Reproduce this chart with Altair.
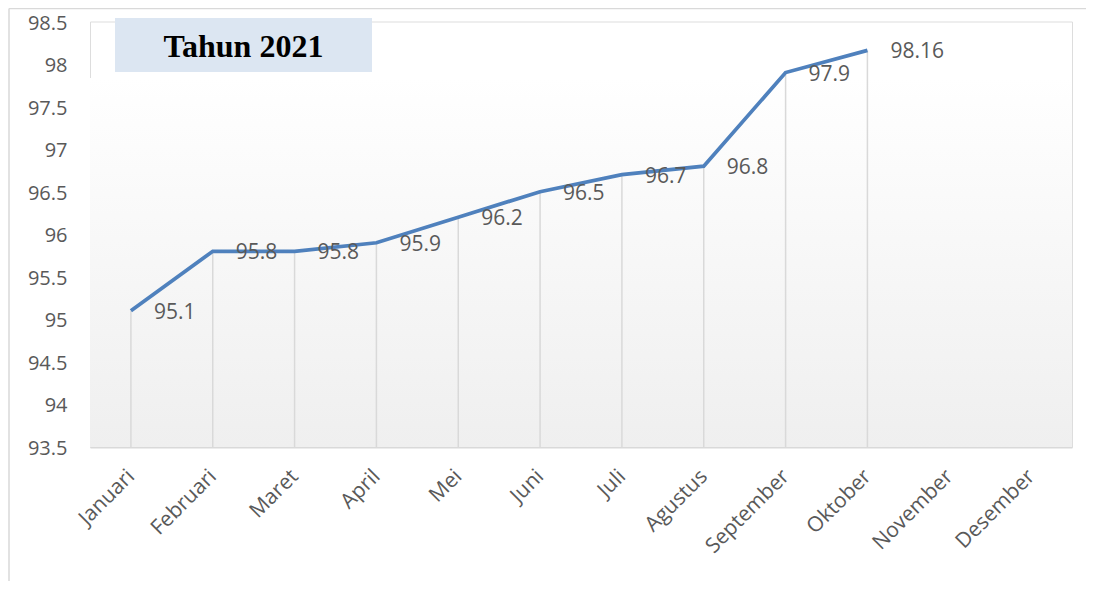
import altair as alt
import pandas as pd

months = ["Januari", "Februari", "Maret", "April", "Mei", "Juni", "Juli",
          "Agustus", "September", "Oktober", "November", "Desember"]
values = [95.1, 95.8, 95.8, 95.9, 96.2, 96.5, 96.7, 96.8, 97.9, 98.16, None, None]
y_ticks = [93.5, 94, 94.5, 95, 95.5, 96, 96.5, 97, 97.5, 98, 98.5]
title_text = "Tahun 2021"
y_min, y_max = 93.5, 98.5

W, H = 982, 425.5
FONT = "Open Sans"
GRAY_TXT = "#595959"
GRID = "#d9d9d9"

df = pd.DataFrame({"month": months, "value": values})
df_pts = df.dropna().copy()
df_pts["base"] = y_min

x_enc = alt.X("month:N", sort=months,
              scale=alt.Scale(type="point", domain=months, padding=0.5),
              axis=alt.Axis(title=None, labelAngle=-45, labelAlign="right",
                            labelBaseline="middle", labelPadding=26,
                            labelFontSize=21, labelColor=GRAY_TXT, labelFont=FONT,
                            ticks=False, domainColor=GRID, domainWidth=2,
                            grid=False))
y_scale = alt.Scale(domain=[y_min, y_max], nice=False, zero=False)
y_enc = alt.Y("value:Q", scale=y_scale,
              axis=alt.Axis(title=None, values=y_ticks, format="~g",
                            labelFontSize=20, labelColor=GRAY_TXT, labelFont=FONT,
                            labelPadding=23, labelOffset=1.5,
                            ticks=False, domain=False, grid=False))

one = pd.DataFrame({"a": [0]})

bg = alt.Chart(one).mark_rect(
    fill=alt.LinearGradient(
        gradient="linear",
        stops=[alt.GradientStop(color="#ffffff", offset=0),
               alt.GradientStop(color="#efefef", offset=1)],
        x1=0, x2=0, y1=0, y2=1),
).encode(x=alt.value(0), x2=alt.value(W), y=alt.value(56.5), y2=alt.value(H))

title_box = alt.Chart(one).mark_rect(fill="#dce6f2").encode(
    x=alt.value(25), x2=alt.value(282), y=alt.value(-3.5), y2=alt.value(50.5))

title = alt.Chart(pd.DataFrame({"t": [title_text]})).mark_text(
    font="Liberation Serif", fontWeight="bold", fontSize=32, color="#000000",
    align="center", baseline="middle").encode(
    x=alt.value(153.5), y=alt.value(25), text="t:N")

drops = alt.Chart(df_pts).mark_rule(color=GRID, strokeWidth=1.5).encode(
    x=x_enc, y=y_enc, y2="base:Q")

line = alt.Chart(df).mark_line(color="#4f81bd", strokeWidth=3.75).encode(
    x=x_enc, y=y_enc)

labels = alt.Chart(df_pts).mark_text(
    font=FONT, fontSize=21, color=GRAY_TXT, align="left", baseline="middle",
    dx=23, dy=2).encode(x=x_enc, y=y_enc, text=alt.Text("value:Q", format="~g"))

border_top = alt.Chart(one).mark_rule(color=GRID, strokeWidth=1.5).encode(
    x=alt.value(-81), x2=alt.value(W + 30), y=alt.value(-13))
border_left = alt.Chart(one).mark_rule(color=GRID, strokeWidth=1.5).encode(
    x=alt.value(-81), y=alt.value(-13), y2=alt.value(H + 180))

chart = alt.layer(bg, title_box, title, drops, line, labels, border_top, border_left).properties(
    width=W, height=H,
    autosize=alt.AutoSizeParams(type="none"),
    padding={"left": 82, "top": 13.5, "right": 14, "bottom": 134},
).configure_view(stroke=None).configure(background="#ffffff")

chart.save("out.html", embed_options={"renderer": "svg", "actions": False})
